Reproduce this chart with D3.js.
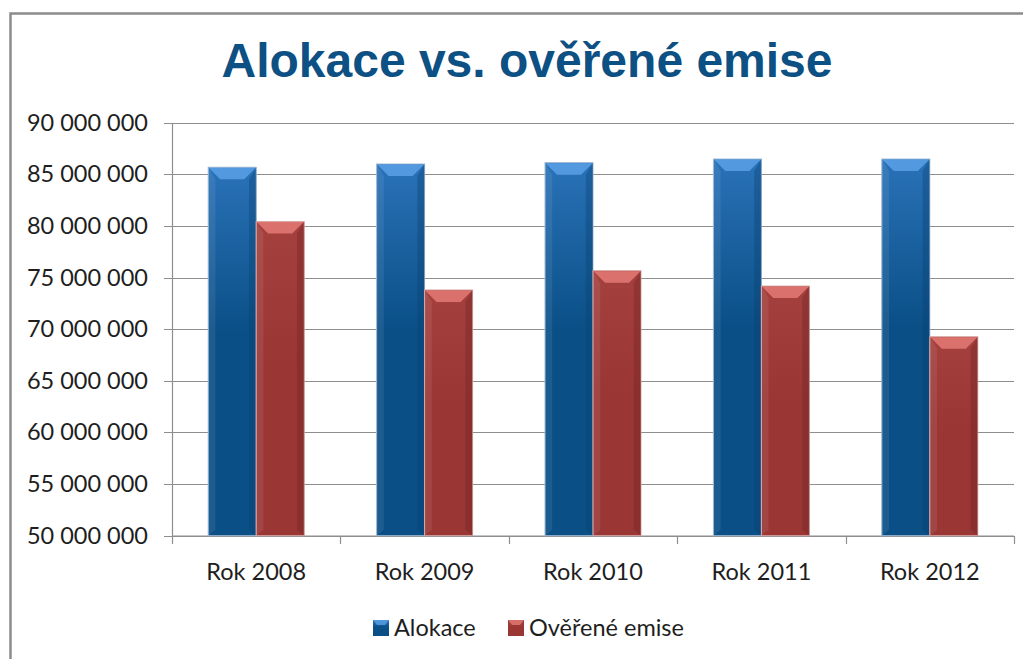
<!DOCTYPE html>
<html>
<head>
<meta charset="utf-8">
<script src="https://cdn.jsdelivr.net/npm/d3@7"></script>
<style>
  body { margin: 0; background: #fff; }
  svg { display: block; }
  text { font-family: Lato, "Open Sans", sans-serif; fill: #1e1e1e; }
</style>
</head>
<body>
<svg class="chart"></svg>
<script>
var width = 1023, height = 659;

// data
var years = ["Rok 2008", "Rok 2009", "Rok 2010", "Rok 2011", "Rok 2012"];
var alokace = [85680000, 86000000, 86130000, 86480000, 86480000];
var overene = [80420000, 73800000, 75670000, 74180000, 69270000];
var seriesNames = ["Alokace", "Ověřené emise"];
var yTicks = [50000000, 55000000, 60000000, 65000000, 70000000, 75000000, 80000000, 85000000, 90000000];

var chart = d3.select(".chart")
    .attr("width", width)
    .attr("height", height);

var defs = chart.append("defs");

// colours for the two series: body top, body bottom, bevel, edge
var palette = [
    {top: "#2a72b8", bottom: "#0a4f86", bevel: "#5aa0e6", edge: "#08406e", line: "#9fb8d4"},
    {top: "#a4403e", bottom: "#9a3735", bevel: "#e57a76", edge: "#6e2221", line: "#d7a8a6"}
];

palette.forEach(function(p, i) {
    var g = defs.append("linearGradient")
        .attr("id", "body" + i)
        .attr("x1", 0).attr("y1", 0).attr("x2", 0).attr("y2", 1);
    g.append("stop").attr("offset", "0%").attr("stop-color", p.top);
    g.append("stop").attr("offset", "45%").attr("stop-color", p.bottom);
    g.append("stop").attr("offset", "100%").attr("stop-color", p.bottom);
});

// outer frame
chart.append("rect")
    .attr("x", 10.5).attr("y", 13.5)
    .attr("width", 1100).attr("height", 1000)
    .attr("fill", "none")
    .attr("stroke", "#8c8c8c")
    .attr("stroke-width", 2.5);

chart.append("text")
    .attr("x", 527).attr("y", 77)
    .attr("text-anchor", "middle")
    .style("font-family", "'Liberation Sans', Arial, sans-serif")
    .style("font-weight", "bold")
    .style("font-size", "48px")
    .style("fill", "#0d5083")
    .text("Alokace vs. ověřené emise");

var x_scale = d3.scaleBand()
    .domain(years)
    .range([172, 1014]);

var y_scale = d3.scaleLinear()
    .domain([50000000, 90000000])
    .range([535.7, 122.7]);

var fmt = function(v) {
    return d3.format(",")(v).replace(/,/g, " ");
};

// grid lines
chart.append("g")
    .selectAll("line")
    .data(yTicks)
    .enter().append("line")
    .attr("x1", 164).attr("x2", 1014)
    .attr("y1", function(d) { return Math.round(y_scale(d)) + 0.5; })
    .attr("y2", function(d) { return Math.round(y_scale(d)) + 0.5; })
    .attr("stroke", "#8e8e8e")
    .attr("stroke-width", 1.2);

// y axis labels
var y_axis = d3.axisLeft(y_scale)
    .tickValues(yTicks)
    .tickFormat(fmt)
    .tickSize(0)
    .tickPadding(24);

var yg = chart.append("g")
    .attr("transform", "translate(172,0)")
    .call(y_axis);
yg.select(".domain").attr("stroke", "#8e8e8e").attr("stroke-width", 1.2);
yg.selectAll("text")
    .style("font-size", "23.5px")
    .style("font-family", "Lato, sans-serif")
    .attr("fill", "#1e1e1e");

// x axis: ticks at category boundaries
var bounds = years.map(function(d) { return x_scale(d); }).concat([x_scale.range()[1]]);
chart.append("line")
    .attr("x1", 172).attr("x2", 1014)
    .attr("y1", 536).attr("y2", 536)
    .attr("stroke", "#8e8e8e").attr("stroke-width", 1.2);
chart.append("g")
    .selectAll("line")
    .data(bounds)
    .enter().append("line")
    .attr("x1", function(d) { return Math.round(d) + 0.5; })
    .attr("x2", function(d) { return Math.round(d) + 0.5; })
    .attr("y1", 536).attr("y2", 544)
    .attr("stroke", "#8e8e8e").attr("stroke-width", 1.2);

chart.append("g")
    .selectAll("text")
    .data(years)
    .enter().append("text")
    .attr("x", function(d) { return x_scale(d) + x_scale.bandwidth() / 2; })
    .attr("y", 580)
    .attr("text-anchor", "middle")
    .style("font-size", "23.5px")
    .text(function(d) { return d; });

// bars
var barW = x_scale.bandwidth() * 0.285;
var bev = 12;
var rows = years.map(function(y, i) {
    return [
        {year: y, s: 0, v: alokace[i]},
        {year: y, s: 1, v: overene[i]}
    ];
});

var bar = chart.selectAll("g.grp")
    .data(rows)
    .enter().append("g")
    .attr("class", "grp")
    .selectAll("g")
    .data(function(d) { return d; })
    .enter().append("g");

function bx(d) {
    return x_scale(d.year) + x_scale.bandwidth() / 2 - barW + d.s * barW;
}

bar.append("rect")
    .attr("x", bx)
    .attr("y", function(d) { return y_scale(d.v); })
    .attr("width", barW)
    .attr("height", function(d) { return y_scale(50000000) - y_scale(d.v); })
    .attr("fill", function(d) { return "url(#body" + d.s + ")"; })
    .attr("stroke", function(d) { return palette[d.s].line; })
    .attr("stroke-width", 1);

// darker side edges
bar.append("polygon")
    .attr("points", function(d) {
        var x0 = bx(d), x1 = x0 + barW, yt = y_scale(d.v), yb = y_scale(50000000);
        return [[x1, yt], [x1 - bev * 0.6, yt + bev], [x1 - bev * 0.6, yb - 6], [x1, yb]].join(" ");
    })
    .attr("fill", function(d) { return palette[d.s].edge; })
    .attr("opacity", 0.35);

bar.append("polygon")
    .attr("points", function(d) {
        var x0 = bx(d), yt = y_scale(d.v), yb = y_scale(50000000);
        return [[x0, yt], [x0 + bev * 0.6, yt + bev], [x0 + bev * 0.6, yb - 6], [x0, yb]].join(" ");
    })
    .attr("fill", "#ffffff")
    .attr("opacity", 0.08);

// light bevel on top
bar.append("polygon")
    .attr("points", function(d) {
        var x0 = bx(d), x1 = x0 + barW, yt = y_scale(d.v);
        return [[x0 + 0.5, yt + 0.5], [x1 - 0.5, yt + 0.5], [x1 - bev, yt + bev], [x0 + bev, yt + bev]].join(" ");
    })
    .attr("fill", function(d) { return palette[d.s].bevel; })
    .attr("opacity", 0.85);

// legend
var legend = chart.append("g")
    .selectAll("g")
    .data(seriesNames)
    .enter().append("g")
    .attr("transform", function(d, i) {
        return "translate(" + [373, 508][i] + ",620)";
    });
legend.append("rect")
    .attr("width", 16).attr("height", 16)
    .attr("fill", function(d, i) { return "url(#body" + i + ")"; });
legend.append("polygon")
    .attr("points", "0,0 16,0 12,5 4,5")
    .attr("fill", function(d, i) { return palette[i].bevel; })
    .attr("opacity", 0.8);
legend.append("text")
    .attr("x", 21).attr("y", 16)
    .style("font-size", "23.5px")
    .text(function(d) { return d; });
</script>
</body>
</html>
